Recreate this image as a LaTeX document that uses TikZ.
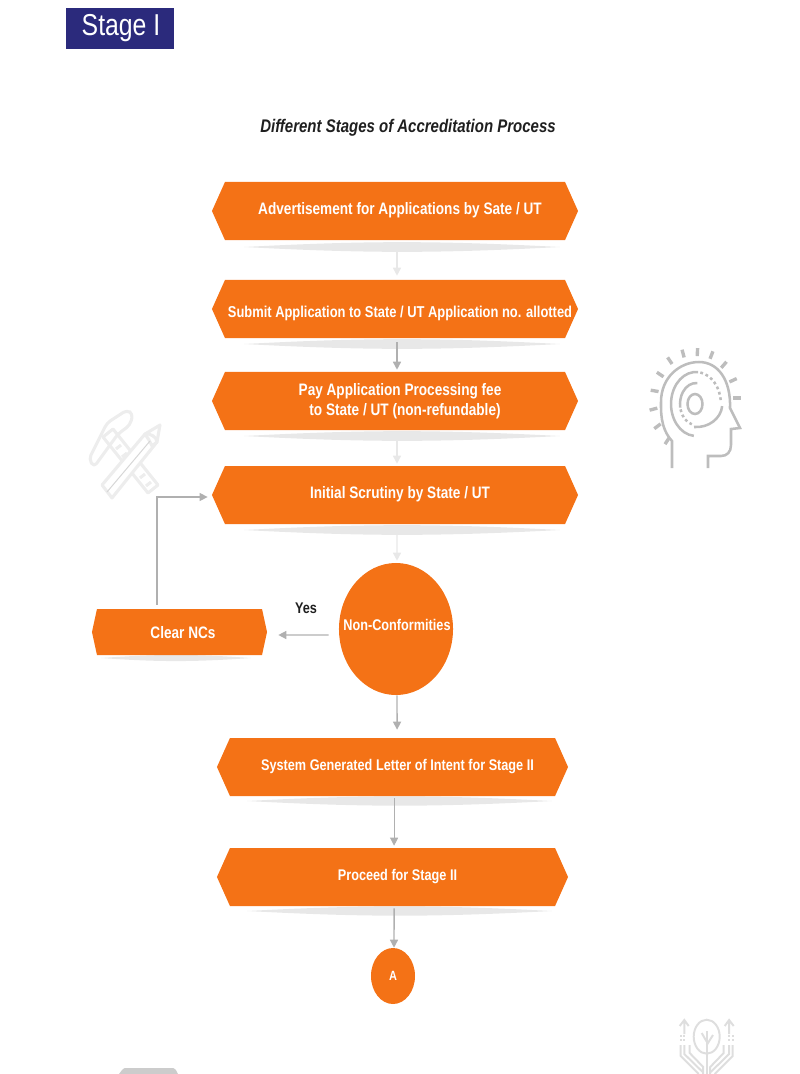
\documentclass[tikz,border=0pt]{standalone}
\usepackage{fontspec}
\setmainfont[FakeStretch=0.82]{Liberation Sans}
\usetikzlibrary{
    shapes.geometric,
    shapes.symbols,
    arrows.meta,
    positioning
}
\definecolor{stageorange}{HTML}{F47216}
\definecolor{stageblue}{HTML}{2B2A7C}
\definecolor{titledark}{HTML}{1F1F1F}
\definecolor{linegray}{HTML}{B0B0B0}
\definecolor{fadegray}{HTML}{E8E8E8}
\definecolor{headgray}{HTML}{BDBDBD}
\definecolor{treegray}{HTML}{DEDEDE}
\definecolor{toolgray}{HTML}{EDEDED}
% Long lines must not widen their box
\newcommand{\nowiden}[1]{\makebox[0pt]{#1}}
\tikzset{
    % Base hexagon style
    hexbox/.style={
        signal,
        signal to=west and east,
        signal pointer angle=131.7,
        minimum width=9.15cm,
        minimum height=1.45cm,
        inner sep=0pt,
        align=center,
        fill=stageorange,
        text=white,
        font=\fontsize{11.8pt}{14.5pt}\selectfont\bfseries,
        execute at begin node={\hspace*{0.25cm}}
    },
    % One line of text sits a little above the middle
    onerow/.style={
        text height=0.3cm,
        text depth=0.11cm
    },
    % Round decision style
    roundbox/.style={
        ellipse,
        inner sep=0pt,
        fill=stageorange,
        text=white,
        font=\fontsize{11.8pt}{14.5pt}\selectfont\bfseries
    },
    % Arrow styles
    flow/.style={
        -{Triangle[length=2mm, width=2mm]},
        line width=1pt,
        color=#1
    },
    % Lens under each box
    lens/.style={
        fill=fadegray
    }
}
\begin{document}
\begin{tikzpicture}[x=0.025cm, y=-0.025cm]
        \useasboundingbox (0,0) rectangle (800,1074);

        % Lenses
        \foreach \xa/\xb/\yc/\bend in {244/560/247/3, 244/560/344/3, 244/560/436/3, 244/560/530/3, 247/552/801/3, 247/552/911/3, 101/251/658/4}
            \fill[lens] (\xa,\yc) to[bend left=\bend] (\xb,\yc) to[bend left=\bend] (\xa,\yc) -- cycle;

        % Header
        \node[fill=stageblue, text=white, minimum width=2.7cm, minimum height=1.025cm, inner sep=0pt, font=\fontsize{21.5pt}{24pt}\selectfont] (stage) at (120,28.5) {\hspace*{0.05cm}Stage I};
        \node[font=\fontsize{13pt}{16pt}\selectfont\bfseries\itshape, text=titledark] (heading) at (408,128) {Different Stages of Accreditation Process};

        % Main column
        \node[hexbox, onerow] (advert) at (395,211) {Advertisement for Applications by Sate / UT};
        \node[hexbox, text height=0.5cm, text depth=0.06cm, font=\fontsize{11.2pt}{14pt}\selectfont\bfseries] (submit) at (395,309) {\nowiden{Submit Application to State / UT Application no. allotted}};
        \node[hexbox] (fee) at (395,401) {Pay Application Processing fee\\\hspace*{0.25cm}to State / UT (non-refundable)};
        \node[hexbox, onerow] (scrutiny) at (395,495) {Initial Scrutiny by State / UT};
        \node[roundbox, minimum width=2.85cm, minimum height=3.3cm, text height=0.3cm, text depth=0.25cm, font=\fontsize{11pt}{14pt}\selectfont\bfseries] (nonconf) at (396,629) {\nowiden{\hspace*{0.05cm}Non-Conformities}};
        \node[hexbox, minimum width=4.375cm, minimum height=1.15cm, signal pointer angle=155.5, text height=0.3cm, text depth=0cm, execute at begin node={\hspace*{-0.075cm}}] (clear) at (179.5,632) {Clear NCs};
        \node[hexbox, onerow, minimum width=8.775cm, font=\fontsize{11pt}{14pt}\selectfont\bfseries] (letter) at (392.5,767) {System Generated Letter of Intent for Stage II};
        \node[hexbox, onerow, minimum width=8.775cm, font=\fontsize{11pt}{14pt}\selectfont\bfseries] (proceed) at (392.5,877) {Proceed for Stage II};
        \node[roundbox, minimum width=1.1cm, minimum height=1.4cm, font=\fontsize{9.5pt}{11pt}\selectfont\bfseries] (endA) at (393,976) {A};
        \node[font=\fontsize{11pt}{13pt}\selectfont\bfseries, text=titledark] (yes) at (306,608) {Yes};

        % Connections
        \draw[flow=fadegray, shorten <=0.2cm, shorten >=0.1cm] ([xshift=0.05cm]advert.south) -- ([xshift=0.05cm]submit.north);
        \draw[flow=linegray, shorten <=0.1cm, shorten >=0.05cm] ([xshift=0.05cm]submit.south) -- ([xshift=0.05cm]fee.north);
        \draw[flow=fadegray, shorten <=0.1cm, shorten >=0.05cm] ([xshift=0.05cm]fee.south) -- ([xshift=0.05cm]scrutiny.north);
        \draw[flow=fadegray, shorten <=0.15cm, shorten >=0.05cm] ([xshift=0.05cm]scrutiny.south) -- ([xshift=0.025cm]nonconf.north);
        \draw[flow=linegray, shorten <=0.25cm, shorten >=0.275cm] ([yshift=-0.15cm]nonconf.west) -- ([yshift=-0.075cm]clear.east);
        \draw[flow=linegray, line width=0.8pt, shorten <=0.1cm, shorten >=0.1cm] ([xshift=-0.5625cm]clear.north) |- ([yshift=-0.05cm]scrutiny.west);
        \draw[flow=linegray, shorten >=0.2cm] ([xshift=0.025cm]nonconf.south) -- ([xshift=0.115cm]letter.north);
        \draw[flow=linegray, line width=0.7pt, shorten <=0.05cm, shorten >=0.05cm] ([xshift=0.04cm]letter.south) -- ([xshift=0.04cm]proceed.north);
        \draw[flow=linegray, shorten <=0.05cm] ([xshift=0.04cm]proceed.south) -- ([xshift=0.025cm]endA.north);

        % Head
        \begin{scope}[headgray, line width=1.8pt]
            \draw (672,468) -- (672,441) .. controls (660,428) and (661,410) .. (661,402) .. controls (661,377) and (680,362) .. (699,362) .. controls (718,362) and (731,380) .. (730,408) -- (740,428) -- (731,429) -- (731,445) .. controls (731,452) and (727,456) .. (721,456) -- (708,456) -- (708,468);
            \draw (695,404) ellipse [x radius=7.5, y radius=10];
            \draw (698.2,372.1) arc [start angle=-85, end angle=-265, x radius=25, y radius=32];
            \draw[dash pattern=on 2pt off 2pt] (700.3,372.5) arc [start angle=-80, end angle=-5, x radius=25, y radius=32];
            \draw (697.4,383.1) arc [start angle=-85, end angle=-190, x radius=16, y radius=21];
            \draw[dash pattern=on 2pt off 2pt] (680.5,409.4) arc [start angle=-195, end angle=-255, x radius=16, y radius=21];
            \draw (694,427) arc [start angle=-265, end angle=-355, x radius=26, y radius=23];
            \foreach \ang/\rad in {87/46, 105/46, 124/45, 146/42, 170/41, 195/43, 217/47, 237/51, 69/46, 49/44, 25/42, 0/42}
                \draw[line width=2.4pt] (695,398) ++(-\ang:\rad-4) -- ++(-\ang:8);
        \end{scope}

        % Tools
        \begin{scope}[toolgray, line width=2.2pt, line join=round]
            \draw[rounded corners=3pt] (89,459) -- (107,423) -- (127,410) -- (133,414) -- (130,425) -- (118,434) -- (94,467) -- cycle;
            \draw (103,437) -- (113,429) -- (158,485) -- (148,493) -- cycle;
            \draw (116,449) -- (121,445) (122,457) -- (127,453) (140,478) -- (145,474) (146,486) -- (151,482);
            \draw[fill=white] (102,485) -- (145,434) -- (160,425) -- (157,442) -- (112,498) -- cycle;
            \draw[fill=white] (145,434) .. controls (150,433) and (157,437) .. (157,442) -- (152,446) -- (149,440) -- cycle;
            \draw[linegray!50, line width=0.7pt] (107,492) -- (150,441);
        \end{scope}

        % Tree
        \begin{scope}[treegray, line width=1.4pt]
            \draw (706.7,1036.7) ellipse [x radius=13, y radius=17];
            \draw (706.7,1074) -- (706.7,1031);
            \draw (701.7,1033) -- (706.7,1041.7) (713,1035) -- (706.7,1045);
            \foreach \s in {1,-1} {
                \begin{scope}[shift={(706.7,0)}, xscale=\s]
                    \draw (-22.4,1034) -- (-22.4,1020) (-27,1026) -- (-22.4,1020) -- (-18,1026);
                    \draw (-26,1045) -- (-26,1056) -- (-8,1074);
                    \draw (-22.4,1045) -- (-22.4,1054) -- (-4,1072);
                    \draw (-17,1045) -- (-17,1053) -- (-3.5,1067) -- (-3.5,1074);
                    \draw[dash pattern=on 1.5pt off 1.5pt] (-26,1035) -- (-26,1043) (-22.4,1035) -- (-22.4,1043);
                \end{scope}
            }
        \end{scope}

        % Tab at the bottom
        \fill[gray!40] (119,1074) -- (122,1070) .. controls (123,1068) and (125,1068) .. (127,1068) -- (170,1068) .. controls (173,1068) and (175,1068) .. (176,1070) -- (178,1074) -- cycle;

    \end{tikzpicture}
\end{document}
